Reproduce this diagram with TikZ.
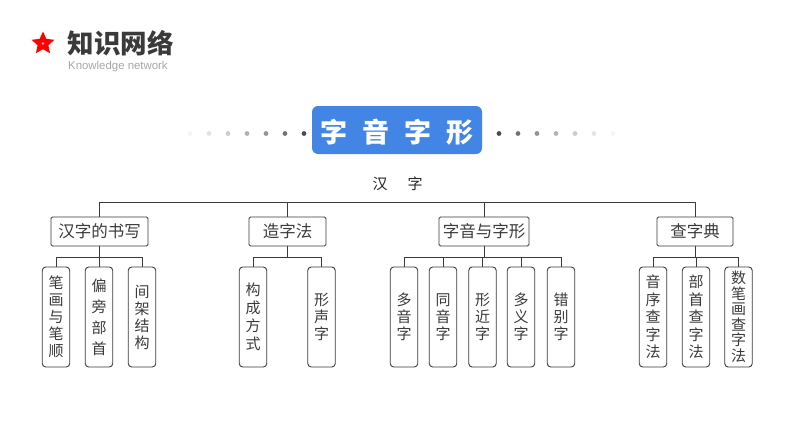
\documentclass[tikz,border=0pt]{standalone}
\usepackage{fontspec}
\setmainfont{Noto Sans CJK SC}
\setsansfont{Liberation Sans}
\usetikzlibrary{shapes.geometric}
\definecolor{titleblue}{HTML}{4285E4}
\definecolor{inkgray}{HTML}{3A3A3A}
\tikzset{
  midbox/.style={draw=inkgray,line width=0.9pt,rounded corners=1.5pt,minimum height=29pt,inner sep=0pt,text=inkgray,font=\fontsize{16.5}{18}\selectfont},
  leafbox/.style={draw=inkgray,line width=0.9pt,rounded corners=3.5pt,minimum width=27.5pt,minimum height=100pt,inner sep=0pt,text=inkgray,align=center},
  link/.style={draw=inkgray,line width=0.9pt}
}
\begin{document}
\begin{tikzpicture}[x=1pt,y=-1pt]
\useasboundingbox (0,0) rectangle (794,447);
% header
\node [star,star points=5,star point ratio=2.1,fill=red,inner sep=0pt,minimum size=24pt] (badge) at (43,43.5) {};
\fill [red!35!white] (badge.center) circle (1.3pt);
\node [anchor=west,inner sep=0pt,text=inkgray,font=\fontsize{26.5}{28}\bfseries\selectfont] (heading) at (67.5,43.5) {知识网络};
\node [anchor=west,inner sep=0pt,text=black!35,font=\sffamily\fontsize{11.4}{13}\selectfont] (subheading) at (68,66.5) {Knowledge network};
% title with dots
\node [fill=titleblue,rounded corners=6pt,minimum width=170pt,minimum height=48pt,inner sep=0pt,text height=25pt,text depth=0pt,text=white,font=\fontsize{27}{29}\bfseries\selectfont] (title) at (397,130) {字\hspace{15pt}音\hspace{15pt}字\hspace{15pt}形};
\foreach \i/\tone in {0/70,1/55,2/42,3/30,4/20,5/11,6/4} {
  \fill [black!\tone] (304-19*\i,133.5) circle (2.4pt);
  \fill [black!\tone] (499+19*\i,133.5) circle (2.4pt);
}
\node [text=black!85,inner sep=0pt,font=\fontsize{15}{17}\selectfont] (root) at (397.5,184) {汉\hspace{20pt}字};
% second row
\foreach \n/\cx/\bw/\lbl in {1/99.5/97/汉字的书写,2/287.5/77/造字法,3/484/90/字音与字形,4/695/76/查字典} {
  \node [midbox,minimum width=\bw pt] (box\n) at (\cx,231.5) {\lbl};
  \coordinate (hub\n) at (box\n.south |- 0,257);
  \draw [link] (box\n.south) -- (hub\n);
}
\coordinate (busL) at (box1.north |- 0,202);
\coordinate (busR) at (box4.north |- 0,202);
\draw [link] (box1.north) -- (busL) -- (busR) -- (box4.north);
\draw [link] (box2.north) -- (box2.north |- busL);
\draw [link] (box3.north) -- (box3.north |- busL);
% leaves
\foreach \n/\cx/\up/\ls/\lbl in {
  1/56/1/17/笔\\画\\与\\笔\\顺,
  2/99/1/21/偏\\旁\\部\\首,
  3/142/1/17/间\\架\\结\\构,
  4/253/2/18/构\\成\\方\\式,
  5/321.5/2/17/形\\声\\字,
  6/404/3/17/多\\音\\字,
  7/443/3/17/同\\音\\字,
  8/482.5/3/17/形\\近\\字,
  9/521/3/17/多\\义\\字,
  10/561/3/17/错\\别\\字,
  11/653/4/17.5/音\\序\\查\\字\\法,
  12/696/4/17.5/部\\首\\查\\字\\法,
  13/738.5/4/15.5/数\\笔\\画\\查\\字\\法} {
  \node [leafbox,font=\fontsize{15}{\ls}\selectfont] (leaf\n) at (\cx,317) {\lbl};
  \draw [link] (hub\up) -| (leaf\n.north);
}
\end{tikzpicture}
\end{document}
